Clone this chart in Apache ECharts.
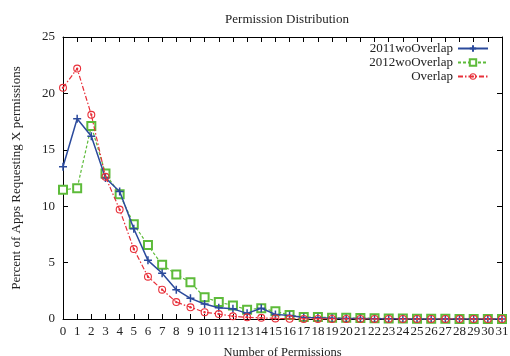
<!DOCTYPE html>
<html>
<head>
<meta charset="utf-8">
<script src="https://cdn.jsdelivr.net/npm/echarts@6/dist/echarts.min.js"></script>
<style>
  html, body { margin: 0; padding: 0; background: #fff; }
  #chart { width: 510px; height: 356px; }
</style>
</head>
<body>
<div id="chart"></div>
<script>
// number of permissions 0..31
const permissions = Array.from({ length: 32 }, (_, i) => i)

// percent of apps
const y2011 = [13.5, 17.75, 16.2, 12.5, 11.3, 8.0, 5.2, 4.05, 2.6, 1.83, 1.33, 1.0, 0.9, 0.5, 0.95, 0.41,
  0.3, 0.14, 0.1, 0.07, 0.05, 0.04, 0.03, 0.02, 0.02, 0.01, 0.01, 0.01, 0, 0, 0, 0]
const y2012 = [11.45, 11.6, 17.1, 12.9, 11.05, 8.4, 6.55, 4.8, 3.95, 3.25, 1.92, 1.5, 1.2, 0.83, 0.95, 0.68,
  0.35, 0.17, 0.17, 0.12, 0.1, 0.08, 0.06, 0.05, 0.04, 0.03, 0.02, 0.02, 0.01, 0.01, 0.01, 0.01]
const yOverlap = [20.5, 22.2, 18.1, 12.6, 9.7, 6.2, 3.75, 2.6, 1.5, 1.04, 0.6, 0.44, 0.24, 0.15, 0.1, 0.05,
  0.02, 0.01, 0.01, 0, 0, 0, 0, 0, 0, 0, 0, 0, 0, 0, 0, 0]

const seriesNames = ['2011woOverlap', '2012woOverlap', 'Overlap']

const font = 'Liberation Serif'
const pairs = arr => permissions.map((x, i) => [x, arr[i]])

// 标记形状
const plusSymbol = 'path://M0 5 L10 5 M5 0 L5 10'
const dotCircle = 'path://M10 0 A10 10 0 1 1 10 20 A10 10 0 1 1 10 0 Z' +
  'M10 2.8 A7.2 7.2 0 1 0 10 17.2 A7.2 7.2 0 1 0 10 2.8 Z' +
  'M10 7 A3 3 0 1 1 10 13 A3 3 0 1 1 10 7 Z'

const myChart = echarts.init(document.getElementById('chart'))

const axisCommon = {
  axisLine: { show: true, onZero: false, lineStyle: { color: '#000', width: 1 } },
  axisTick: { show: true, inside: true, length: 5, lineStyle: { color: '#000' } },
  splitLine: { show: false }
}

const legendBase = {
  right: 16,
  orient: 'vertical',
  align: 'right',
  itemWidth: 30,
  itemHeight: 8,
  itemGap: 4,
  textStyle: { fontFamily: font, fontSize: 13, color: '#222' }
}

myChart.setOption({
  animation: false,
  title: {
    text: 'Permission Distribution',
    left: 282,
    top: 8,
    textAlign: 'center',
    textStyle: { fontFamily: font, fontSize: 13, fontWeight: 'normal', color: '#222' }
  },
  legend: [
    Object.assign({}, legendBase, { top: 37, data: [seriesNames[0]] }),
    Object.assign({}, legendBase, { top: 51, data: [seriesNames[1]] }),
    Object.assign({}, legendBase, { top: 65, data: [seriesNames[2]] })
  ],
  grid: { left: 63, right: 8, top: 37, bottom: 37, outerBoundsMode: 'none', containLabel: false },
  xAxis: [
    Object.assign({}, axisCommon, {
      type: 'value',
      min: 0,
      max: 31,
      interval: 1,
      name: 'Number of Permissions',
      nameLocation: 'middle',
      nameGap: 27,
      nameTextStyle: { fontFamily: font, fontSize: 12.5, color: '#222' },
      axisLabel: { fontFamily: font, fontSize: 13, color: '#222', margin: 6 }
    }),
    Object.assign({}, axisCommon, {
      type: 'value',
      position: 'top',
      min: 0,
      max: 31,
      interval: 1,
      axisLabel: { show: false }
    })
  ],
  yAxis: [
    Object.assign({}, axisCommon, {
      type: 'value',
      min: 0,
      max: 25,
      interval: 5,
      name: 'Percent of Apps Requesting X permissions',
      nameLocation: 'middle',
      nameGap: 40,
      nameTextStyle: { fontFamily: font, fontSize: 13, color: '#222' },
      axisLabel: { fontFamily: font, fontSize: 13, color: '#222', margin: 8 }
    }),
    Object.assign({}, axisCommon, {
      type: 'value',
      position: 'right',
      min: 0,
      max: 25,
      interval: 5,
      axisLabel: { show: false }
    })
  ],
  series: [
    {
      name: seriesNames[0],
      type: 'line',
      data: pairs(y2011),
      symbol: plusSymbol,
      symbolSize: 8,
      lineStyle: { color: '#2b4a9c', width: 1.5 },
      itemStyle: { color: '#2b4a9c', borderColor: '#2b4a9c', borderWidth: 1.5 },
      z: 4
    },
    {
      name: seriesNames[1],
      type: 'line',
      data: pairs(y2012),
      symbol: 'emptyRect',
      symbolSize: 8,
      lineStyle: { color: '#5dbb3a', width: 1.2, type: [3, 2] },
      itemStyle: { color: '#5dbb3a', borderColor: '#5dbb3a', borderWidth: 1.5 },
      z: 3
    },
    {
      name: seriesNames[2],
      type: 'line',
      data: pairs(yOverlap),
      symbol: dotCircle,
      symbolSize: 8,
      lineStyle: { color: '#e8303a', width: 1.2, type: [5, 2, 1.5, 2] },
      itemStyle: { color: '#e8303a' },
      z: 5
    }
  ]
})
</script>
</body>
</html>
